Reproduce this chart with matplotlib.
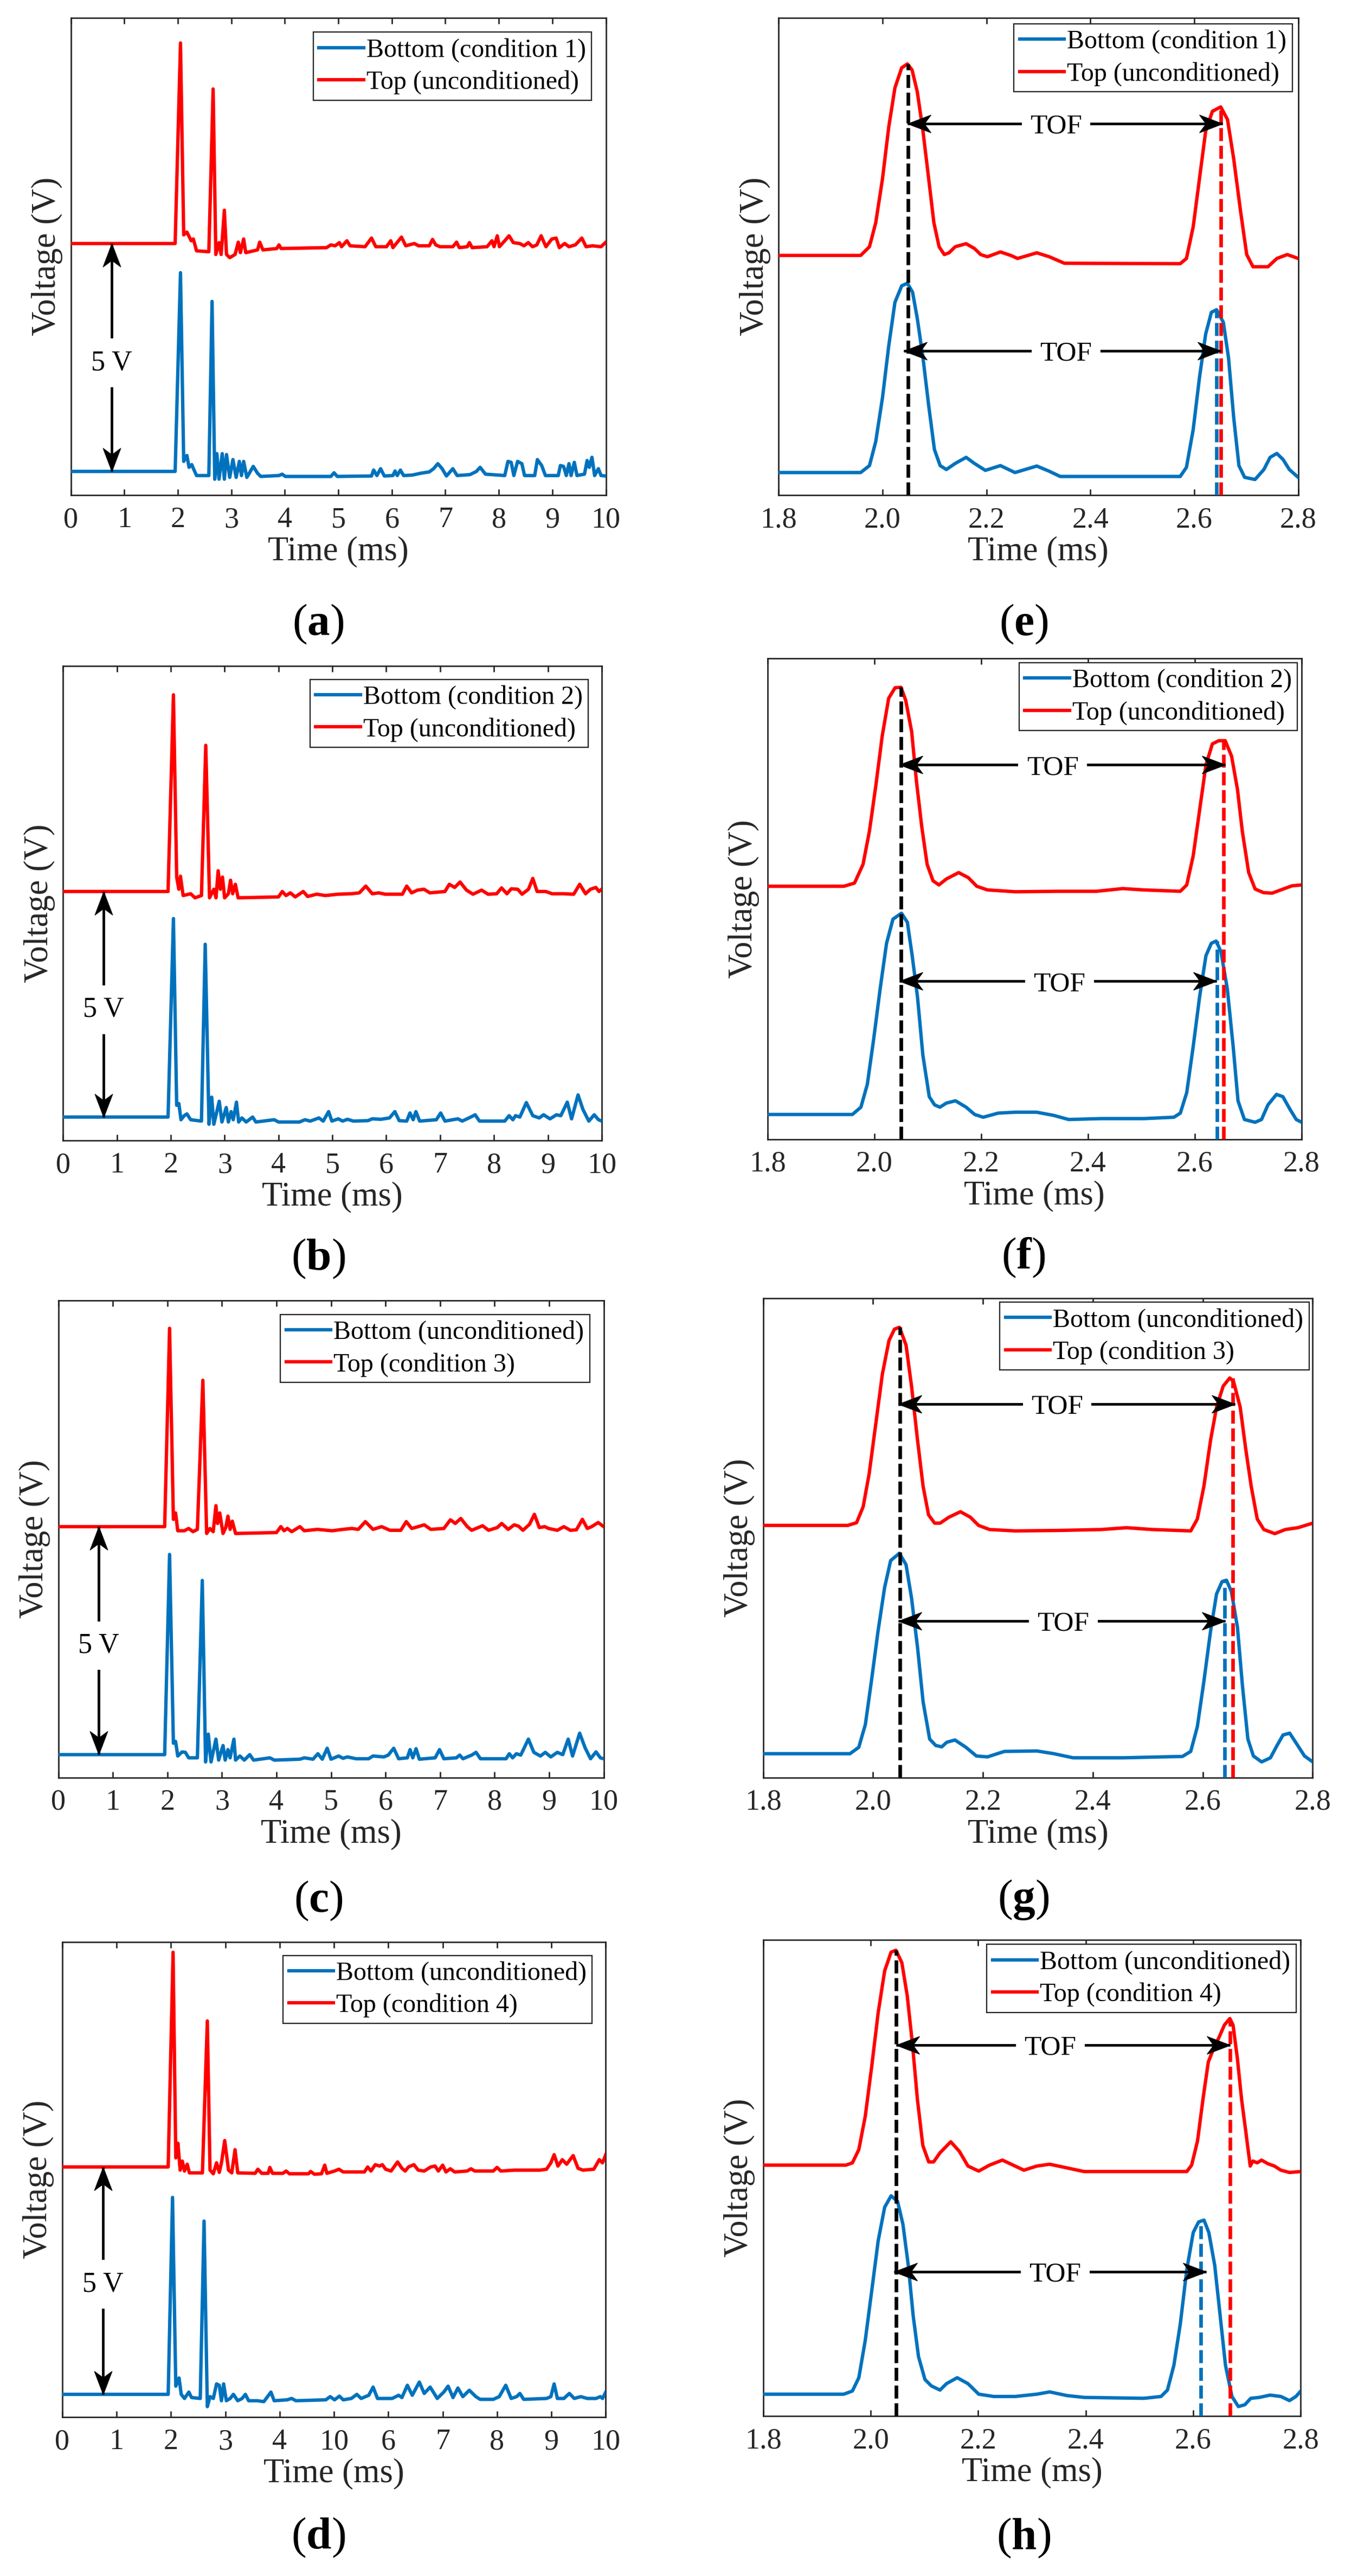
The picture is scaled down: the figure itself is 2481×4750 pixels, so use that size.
import matplotlib
matplotlib.use("Agg")
import matplotlib.pyplot as plt
from matplotlib.path import Path

plt.rcParams['font.family'] = ['Liberation Serif', 'DejaVu Serif']
plt.rcParams['mathtext.fontset'] = 'custom'
plt.rcParams['mathtext.rm'] = 'Liberation Serif'
plt.rcParams['mathtext.bf'] = 'Liberation Serif:bold'

W, H, DPI = 2481, 4750, 300
BLUE = '#0072BD'
RED = '#FF0000'
INK = '#262626'
OFFSET = 5.0  # the "5 V" separation between the two traces

# ---------------- data (time ms, voltage V relative to own baseline) ----------------
a_bottom = [(0,0),(1.95,0),(2.05,4.36),(2.11,0.22),(2.17,0.35),(2.21,0.09),(2.26,0.15),(2.30,0.04),(2.35,-0.09),(2.58,-0.09),(2.64,3.73),(2.69,-0.17),(2.73,0.39),(2.77,-0.17),(2.83,0.39),(2.87,-0.17),(2.91,0.37),(2.97,-0.13),(3.03,0.26),(3.09,-0.13),(3.15,0.22),(3.19,-0.09),(3.23,0.22),(3.29,-0.13),(3.41,0.11),(3.49,-0.04),(3.55,-0.11),(3.89,-0.09),(3.95,-0.06),(4.01,-0.11),(4.86,-0.11),(4.92,-0.03),(4.98,-0.11),(5.62,-0.10),(5.66,0.03),(5.72,-0.09),(5.79,0.06),(5.86,-0.10),(6.02,-0.09),(6.06,0.01),(6.10,-0.09),(6.16,0.03),(6.22,-0.09),(6.38,-0.08),(6.54,-0.04),(6.70,-0.01),(6.78,0.06),(6.86,0.17),(6.94,0.06),(7.02,-0.10),(7.14,0.06),(7.22,-0.09),(7.46,-0.07),(7.58,0.0),(7.65,0.09),(7.75,-0.06),(8.11,-0.09),(8.17,0.22),(8.23,0.20),(8.28,-0.09),(8.35,0.22),(8.43,0.17),(8.48,-0.09),(8.67,-0.09),(8.72,0.26),(8.80,0.13),(8.87,-0.09),(9.11,-0.09),(9.15,0.13),(9.21,0.11),(9.26,-0.09),(9.31,0.17),(9.35,-0.09),(9.41,0.20),(9.46,-0.09),(9.60,-0.06),(9.65,0.24),(9.69,0.09),(9.74,0.31),(9.79,-0.09),(9.86,0.06),(9.91,-0.09),(10.0,-0.10)]
a_top = [(0,0),(1.95,0),(2.05,4.40),(2.11,0.19),(2.17,0.25),(2.25,0.06),(2.29,0.10),(2.35,-0.16),(2.58,-0.18),(2.66,3.39),(2.71,-0.24),(2.77,0.02),(2.81,-0.24),(2.87,0.73),(2.91,-0.24),(2.97,-0.31),(3.07,-0.24),(3.13,0.03),(3.17,-0.20),(3.23,0.10),(3.27,-0.20),(3.49,-0.14),(3.53,0.03),(3.59,-0.14),(3.85,-0.11),(3.89,-0.03),(3.93,-0.11),(4.78,-0.09),(4.86,-0.03),(4.94,-0.05),(5.02,0.02),(5.06,-0.07),(5.16,0.06),(5.22,-0.05),(5.50,-0.07),(5.62,0.12),(5.70,-0.07),(5.90,-0.07),(5.98,0.06),(6.02,-0.09),(6.18,0.14),(6.26,-0.05),(6.42,0.0),(6.50,-0.05),(6.70,-0.05),(6.76,0.09),(6.82,-0.03),(6.90,-0.07),(7.14,-0.07),(7.21,0.03),(7.26,-0.09),(7.41,-0.07),(7.45,0.02),(7.50,-0.09),(7.78,-0.07),(7.87,0.06),(7.91,-0.07),(7.97,0.17),(8.01,-0.07),(8.11,0.06),(8.19,0.17),(8.27,0.02),(8.39,0.0),(8.47,-0.05),(8.55,0.02),(8.63,-0.07),(8.71,-0.03),(8.79,0.17),(8.88,-0.07),(8.99,0.10),(9.07,0.12),(9.13,-0.09),(9.23,0.0),(9.31,-0.07),(9.43,-0.03),(9.55,0.12),(9.63,-0.07),(9.75,-0.05),(9.91,-0.07),(10.0,0.03)]

b_bottom = [(0,0),(1.95,0),(2.05,4.40),(2.11,0.26),(2.15,0.30),(2.19,-0.06),(2.25,0.03),(2.30,0.07),(2.37,-0.06),(2.57,-0.09),(2.64,3.83),(2.71,-0.16),(2.76,0.44),(2.80,-0.16),(2.90,0.35),(2.95,-0.11),(3.03,0.21),(3.07,-0.11),(3.12,0.12),(3.16,-0.06),(3.22,0.33),(3.26,-0.11),(3.32,-0.02),(3.40,-0.11),(3.52,0.0),(3.58,-0.11),(3.92,-0.06),(4.00,-0.11),(4.39,-0.11),(4.49,-0.06),(4.59,-0.09),(4.75,-0.02),(4.83,-0.09),(4.93,0.12),(4.99,-0.09),(5.11,-0.04),(5.19,-0.09),(5.28,-0.05),(5.39,-0.09),(5.66,-0.08),(5.74,-0.04),(5.90,-0.05),(6.06,-0.02),(6.16,0.12),(6.24,-0.08),(6.38,-0.09),(6.44,0.09),(6.50,-0.06),(6.55,0.12),(6.62,-0.09),(6.93,-0.06),(7.01,0.09),(7.09,-0.09),(7.33,-0.04),(7.41,-0.09),(7.57,0.0),(7.65,0.05),(7.73,-0.09),(8.20,-0.09),(8.28,0.03),(8.35,-0.06),(8.40,0.03),(8.48,0.0),(8.60,0.32),(8.72,0.03),(8.84,-0.02),(8.92,0.05),(9.04,-0.04),(9.16,0.05),(9.24,0.03),(9.36,0.33),(9.44,-0.04),(9.56,0.49),(9.65,0.17),(9.76,-0.09),(9.86,0.05),(9.94,-0.06),(10.0,-0.09)]
b_top = [(0,0),(1.95,0),(2.05,4.36),(2.11,0.32),(2.15,0.05),(2.18,0.34),(2.23,-0.09),(2.37,-0.05),(2.45,-0.14),(2.57,-0.09),(2.65,3.24),(2.72,-0.14),(2.80,0.05),(2.84,-0.14),(2.88,0.46),(2.92,0.05),(2.96,0.32),(3.00,-0.14),(3.07,-0.05),(3.11,0.25),(3.15,-0.05),(3.20,0.16),(3.25,-0.14),(4.00,-0.12),(4.07,0.0),(4.14,-0.09),(4.22,-0.03),(4.31,-0.12),(4.46,0.0),(4.54,-0.11),(4.71,-0.06),(4.87,-0.09),(5.11,-0.06),(5.35,-0.05),(5.50,-0.03),(5.62,0.12),(5.74,-0.05),(5.86,-0.03),(5.98,-0.06),(6.30,-0.06),(6.38,0.12),(6.47,-0.03),(6.58,0.03),(6.70,0.05),(6.81,-0.03),(7.09,0.0),(7.17,0.16),(7.27,0.09),(7.37,0.21),(7.49,0.03),(7.61,-0.06),(7.77,0.03),(7.89,-0.06),(8.05,-0.05),(8.14,0.08),(8.24,-0.05),(8.32,0.06),(8.44,0.05),(8.52,-0.06),(8.64,0.05),(8.72,0.29),(8.80,0.0),(8.96,0.0),(9.08,-0.05),(9.28,-0.05),(9.48,-0.06),(9.59,0.16),(9.70,-0.05),(9.79,0.05),(9.89,0.09),(9.95,0.0),(10.0,0.05)]

c_bottom = [(0,0),(1.95,0),(2.04,4.39),(2.11,0.25),(2.15,0.29),(2.19,-0.03),(2.27,0.06),(2.33,0.05),(2.39,-0.07),(2.55,-0.07),(2.64,3.82),(2.70,-0.16),(2.75,0.45),(2.80,-0.16),(2.89,0.34),(2.94,-0.12),(3.02,0.20),(3.06,-0.12),(3.11,0.11),(3.15,-0.07),(3.22,0.34),(3.25,-0.12),(3.33,-0.03),(3.41,-0.12),(3.51,0.0),(3.58,-0.12),(3.88,-0.07),(3.96,-0.12),(4.43,-0.10),(4.51,-0.07),(4.67,-0.10),(4.76,0.02),(4.84,-0.10),(4.93,0.14),(5.00,-0.10),(5.14,-0.03),(5.22,-0.08),(5.30,-0.05),(5.46,-0.09),(5.69,-0.09),(5.77,-0.03),(5.97,-0.05),(6.05,-0.01),(6.15,0.14),(6.24,-0.09),(6.40,-0.07),(6.45,0.11),(6.50,-0.07),(6.56,0.13),(6.62,-0.10),(6.91,-0.07),(6.99,0.11),(7.07,-0.09),(7.30,-0.07),(7.36,-0.01),(7.42,-0.09),(7.58,-0.01),(7.66,0.05),(7.74,-0.09),(8.21,-0.09),(8.27,0.02),(8.33,-0.07),(8.40,0.02),(8.48,-0.01),(8.62,0.34),(8.72,0.05),(8.84,-0.03),(8.93,0.05),(9.03,-0.05),(9.15,0.05),(9.25,0.0),(9.35,0.34),(9.43,-0.03),(9.56,0.47),(9.66,0.15),(9.76,-0.09),(9.86,0.06),(9.94,-0.07),(10.0,-0.09)]
c_top = [(0,0),(1.95,0),(2.04,4.35),(2.11,0.16),(2.15,0.30),(2.19,-0.09),(2.31,-0.09),(2.39,-0.04),(2.47,-0.11),(2.55,-0.06),(2.65,3.21),(2.72,-0.15),(2.78,-0.04),(2.84,-0.11),(2.89,0.46),(2.92,0.07),(2.96,0.30),(3.02,-0.15),(3.07,-0.02),(3.11,0.23),(3.15,-0.06),(3.19,0.12),(3.25,-0.15),(4.00,-0.13),(4.08,0.0),(4.14,-0.09),(4.20,-0.04),(4.28,-0.11),(4.43,0.0),(4.51,-0.09),(4.75,-0.06),(5.02,-0.09),(5.22,-0.06),(5.38,-0.04),(5.50,-0.06),(5.63,0.11),(5.77,-0.06),(5.93,0.0),(6.08,-0.08),(6.28,-0.08),(6.38,0.11),(6.48,-0.04),(6.60,0.0),(6.71,0.04),(6.83,-0.06),(7.07,-0.04),(7.19,0.15),(7.28,0.07),(7.38,0.18),(7.50,0.0),(7.58,-0.08),(7.78,0.02),(7.89,-0.08),(8.05,-0.02),(8.13,0.07),(8.25,-0.06),(8.36,0.04),(8.44,0.01),(8.52,-0.08),(8.64,0.05),(8.73,0.27),(8.82,-0.02),(8.92,0.0),(8.99,-0.04),(9.15,-0.08),(9.27,0.0),(9.39,-0.08),(9.50,-0.07),(9.61,0.16),(9.70,-0.04),(9.78,0.0),(9.90,0.09),(10.0,0.0)]

d_bottom = [(0,0),(1.95,0),(2.03,4.33),(2.09,0.18),(2.15,0.36),(2.19,0.0),(2.25,-0.09),(2.33,0.05),(2.38,-0.07),(2.54,-0.09),(2.61,3.81),(2.67,-0.27),(2.72,-0.05),(2.78,-0.09),(2.84,0.23),(2.89,0.20),(2.93,-0.14),(2.97,0.23),(3.02,-0.14),(3.09,-0.09),(3.15,0.0),(3.23,-0.14),(3.31,-0.09),(3.37,0.0),(3.43,-0.14),(3.59,-0.14),(3.71,-0.16),(3.84,0.05),(3.90,-0.14),(4.14,-0.12),(4.22,-0.09),(4.30,-0.14),(4.85,-0.12),(4.93,-0.05),(5.01,-0.12),(5.10,-0.04),(5.17,-0.12),(5.32,-0.09),(5.42,0.0),(5.50,-0.09),(5.64,-0.02),(5.72,0.16),(5.80,-0.09),(6.07,-0.09),(6.19,-0.02),(6.25,-0.07),(6.35,0.20),(6.44,-0.02),(6.57,0.27),(6.66,0.02),(6.77,0.16),(6.90,-0.09),(7.02,0.05),(7.10,0.18),(7.19,-0.07),(7.28,0.14),(7.37,-0.05),(7.49,0.09),(7.61,-0.05),(7.69,-0.11),(7.93,-0.11),(8.04,-0.05),(8.16,0.20),(8.26,-0.09),(8.36,-0.05),(8.42,0.02),(8.49,-0.11),(8.91,-0.09),(8.99,-0.05),(9.05,0.23),(9.11,-0.09),(9.23,-0.09),(9.33,0.02),(9.42,-0.09),(9.54,-0.05),(9.66,-0.09),(9.82,-0.09),(9.90,-0.05),(9.94,-0.09),(10.0,0.05)]
d_top = [(0,0),(1.95,0),(2.04,4.72),(2.09,0.20),(2.13,0.52),(2.17,-0.07),(2.21,0.13),(2.25,-0.09),(2.30,0.06),(2.34,-0.13),(2.58,-0.13),(2.67,3.21),(2.72,-0.07),(2.78,-0.15),(2.84,0.09),(2.89,-0.12),(2.93,0.09),(2.99,0.58),(3.06,-0.07),(3.12,-0.13),(3.18,0.38),(3.23,-0.13),(3.55,-0.14),(3.60,-0.05),(3.67,-0.14),(3.79,-0.14),(3.82,-0.01),(3.87,-0.14),(4.06,-0.14),(4.12,-0.09),(4.18,-0.15),(4.53,-0.15),(4.57,-0.10),(4.64,-0.16),(4.77,-0.15),(4.83,0.04),(4.87,-0.14),(5.01,-0.09),(5.09,-0.05),(5.17,-0.11),(5.56,-0.11),(5.62,0.0),(5.68,-0.09),(5.76,0.05),(5.84,0.02),(5.89,0.05),(5.95,-0.05),(6.05,-0.09),(6.17,0.11),(6.25,-0.03),(6.31,-0.09),(6.37,0.0),(6.47,0.05),(6.55,-0.07),(6.66,-0.09),(6.78,0.0),(6.86,0.02),(6.92,-0.09),(7.00,0.04),(7.06,-0.11),(7.14,-0.04),(7.22,-0.11),(7.45,-0.09),(7.52,-0.04),(7.59,-0.09),(7.93,-0.09),(8.00,-0.01),(8.07,-0.09),(8.32,-0.07),(8.56,-0.07),(8.79,-0.07),(8.91,-0.05),(8.99,0.09),(9.05,0.27),(9.12,0.02),(9.20,0.16),(9.28,0.06),(9.40,0.25),(9.49,-0.03),(9.58,-0.07),(9.78,-0.05),(9.88,0.16),(9.94,0.09),(10.0,0.27)]

e_bottom = [(1.8,0),(1.958,0),(1.975,0.16),(1.987,0.71),(2.0,1.72),(2.012,2.91),(2.024,3.92),(2.037,4.30),(2.048,4.36),(2.058,4.15),(2.067,3.55),(2.078,2.64),(2.089,1.54),(2.100,0.53),(2.111,0.16),(2.123,0.07),(2.140,0.21),(2.161,0.35),(2.177,0.21),(2.198,0.05),(2.227,0.16),(2.255,0.0),(2.297,0.15),(2.321,0.03),(2.342,-0.09),(2.573,-0.09),(2.585,0.12),(2.598,0.99),(2.610,2.18),(2.622,3.19),(2.633,3.69),(2.643,3.75),(2.656,3.46),(2.666,2.64),(2.676,1.26),(2.686,0.16),(2.697,-0.11),(2.717,-0.16),(2.734,0.07),(2.746,0.35),(2.759,0.44),(2.771,0.30),(2.783,0.07),(2.8,-0.11)]
e_top = [(1.8,0),(1.958,0),(1.975,0.20),(1.987,0.75),(2.0,1.76),(2.012,2.95),(2.024,3.86),(2.037,4.32),(2.048,4.41),(2.057,4.27),(2.067,3.77),(2.078,2.86),(2.089,1.76),(2.099,0.75),(2.109,0.20),(2.119,0.02),(2.128,0.06),(2.140,0.20),(2.161,0.27),(2.177,0.16),(2.189,0.02),(2.202,-0.03),(2.227,0.08),(2.247,0.0),(2.26,-0.07),(2.297,0.06),(2.321,-0.03),(2.35,-0.18),(2.573,-0.19),(2.585,-0.07),(2.598,0.66),(2.610,1.76),(2.622,2.86),(2.635,3.32),(2.651,3.42),(2.664,3.13),(2.676,2.22),(2.689,1.03),(2.701,0.02),(2.713,-0.26),(2.742,-0.26),(2.759,-0.07),(2.779,0.02),(2.8,-0.07)]

f_bottom = [(1.8,0),(1.959,0),(1.975,0.16),(1.987,0.66),(1.999,1.66),(2.011,2.75),(2.023,3.75),(2.035,4.28),(2.051,4.41),(2.062,4.21),(2.071,3.48),(2.081,2.57),(2.091,1.30),(2.103,0.39),(2.113,0.21),(2.123,0.16),(2.135,0.25),(2.152,0.30),(2.172,0.16),(2.188,0.0),(2.204,-0.06),(2.232,0.03),(2.264,0.05),(2.304,0.05),(2.336,-0.02),(2.364,-0.11),(2.424,-0.09),(2.505,-0.09),(2.561,-0.06),(2.573,0.03),(2.585,0.48),(2.597,1.48),(2.609,2.57),(2.621,3.48),(2.631,3.75),(2.640,3.80),(2.649,3.57),(2.661,2.75),(2.672,1.48),(2.681,0.30),(2.693,-0.11),(2.713,-0.17),(2.725,-0.11),(2.737,0.21),(2.753,0.44),(2.765,0.39),(2.778,0.12),(2.79,-0.11),(2.8,-0.17)]
f_top = [(1.8,0),(1.943,0),(1.963,0.07),(1.979,0.48),(1.991,1.21),(2.003,2.21),(2.015,3.30),(2.027,4.12),(2.039,4.35),(2.05,4.36),(2.059,4.07),(2.07,3.39),(2.079,2.30),(2.089,1.30),(2.099,0.48),(2.11,0.12),(2.121,0.03),(2.135,0.16),(2.158,0.30),(2.176,0.19),(2.192,0.0),(2.212,-0.08),(2.264,-0.12),(2.344,-0.11),(2.416,-0.11),(2.465,-0.05),(2.505,-0.08),(2.573,-0.11),(2.585,0.03),(2.597,0.66),(2.609,1.66),(2.621,2.66),(2.633,3.12),(2.645,3.19),(2.657,3.19),(2.669,2.85),(2.68,2.12),(2.689,1.21),(2.701,0.30),(2.713,-0.06),(2.729,-0.14),(2.745,-0.15),(2.761,-0.08),(2.782,0.01),(2.8,0.03)]

g_bottom = [(1.8,0),(1.958,0),(1.974,0.14),(1.986,0.64),(1.997,1.59),(2.009,2.68),(2.021,3.64),(2.032,4.23),(2.048,4.39),(2.06,4.14),(2.07,3.41),(2.081,2.32),(2.091,1.14),(2.103,0.32),(2.114,0.18),(2.125,0.15),(2.134,0.25),(2.149,0.30),(2.169,0.14),(2.188,-0.05),(2.208,-0.07),(2.239,0.05),(2.298,0.06),(2.329,0.0),(2.364,-0.09),(2.454,-0.09),(2.563,-0.06),(2.578,0.05),(2.59,0.59),(2.602,1.59),(2.614,2.68),(2.625,3.50),(2.635,3.77),(2.643,3.80),(2.652,3.55),(2.663,2.77),(2.672,1.50),(2.682,0.32),(2.692,-0.05),(2.707,-0.18),(2.723,-0.09),(2.735,0.18),(2.746,0.41),(2.758,0.45),(2.77,0.23),(2.785,-0.05),(2.8,-0.18)]
g_top = [(1.8,0),(1.954,0),(1.97,0.06),(1.982,0.41),(1.993,1.14),(2.005,2.23),(2.017,3.32),(2.029,4.05),(2.039,4.30),(2.048,4.34),(2.06,3.95),(2.07,3.05),(2.081,1.86),(2.091,0.86),(2.101,0.23),(2.112,0.05),(2.122,0.05),(2.138,0.18),(2.159,0.30),(2.177,0.18),(2.192,0.0),(2.212,-0.09),(2.259,-0.12),(2.337,-0.11),(2.415,-0.09),(2.461,-0.05),(2.508,-0.09),(2.578,-0.12),(2.59,0.14),(2.602,0.86),(2.614,1.86),(2.625,2.59),(2.637,3.05),(2.649,3.23),(2.656,3.15),(2.668,2.59),(2.678,1.68),(2.688,0.86),(2.699,0.14),(2.711,-0.09),(2.731,-0.18),(2.75,-0.09),(2.773,-0.05),(2.8,0.05)]

h_bottom = [(1.8,0),(1.95,0),(1.966,0.07),(1.978,0.36),(1.99,1.18),(2.002,2.26),(2.014,3.35),(2.026,4.08),(2.038,4.33),(2.05,4.21),(2.06,3.71),(2.07,2.81),(2.079,1.72),(2.089,0.82),(2.101,0.32),(2.113,0.18),(2.129,0.09),(2.141,0.23),(2.161,0.36),(2.181,0.23),(2.201,0.0),(2.229,-0.05),(2.269,-0.05),(2.309,0.0),(2.333,0.05),(2.365,-0.03),(2.397,-0.07),(2.508,-0.09),(2.54,-0.05),(2.552,0.09),(2.564,0.63),(2.576,1.54),(2.588,2.72),(2.6,3.53),(2.61,3.76),(2.62,3.80),(2.629,3.53),(2.64,2.81),(2.65,1.72),(2.66,0.63),(2.672,-0.05),(2.684,-0.27),(2.696,-0.23),(2.707,-0.09),(2.723,-0.07),(2.743,-0.02),(2.763,-0.05),(2.779,-0.14),(2.791,-0.05),(2.8,0.07)]
h_top = [(1.8,0),(1.954,0),(1.966,0.05),(1.978,0.34),(1.99,1.07),(2.002,2.16),(2.014,3.33),(2.026,4.24),(2.038,4.65),(2.047,4.69),(2.058,4.42),(2.068,3.70),(2.078,2.61),(2.087,1.43),(2.097,0.43),(2.108,0.07),(2.117,0.07),(2.129,0.27),(2.149,0.51),(2.165,0.30),(2.181,-0.02),(2.201,-0.13),(2.221,0.0),(2.245,0.11),(2.265,0.0),(2.285,-0.11),(2.309,-0.02),(2.333,0.02),(2.357,-0.04),(2.397,-0.14),(2.508,-0.14),(2.588,-0.14),(2.597,0.0),(2.608,0.53),(2.618,1.43),(2.628,2.25),(2.637,2.52),(2.648,2.79),(2.658,3.06),(2.668,3.20),(2.674,3.06),(2.682,2.34),(2.69,1.43),(2.698,0.71),(2.706,-0.02),(2.711,0.09),(2.719,0.05),(2.727,0.11),(2.739,0.03),(2.751,-0.02),(2.763,-0.11),(2.779,-0.16),(2.8,-0.14)]

# legend texts
legend_a = ['Bottom (condition 1)', 'Top (unconditioned)']
legend_b = ['Bottom (condition 2)', 'Top (unconditioned)']
legend_c = ['Bottom (unconditioned)', 'Top (condition 3)']
legend_d = ['Bottom (unconditioned)', 'Top (condition 4)']

# tick labels
ticks_full = [0, 1, 2, 3, 4, 5, 6, 7, 8, 9, 10]
ticklabels_full = ['0', '1', '2', '3', '4', '5', '6', '7', '8', '9', '10']
ticklabels_d = ['0', '1', '2', '3', '4', '10', '6', '7', '8', '9', '10']
ticks_zoom = [1.8, 2.0, 2.2, 2.4, 2.6, 2.8]
ticklabels_zoom = ['1.8', '2.0', '2.2', '2.4', '2.6', '2.8']

# y ranges (V)
ylim_a, ylim_b, ylim_c, ylim_d = (-0.52, 9.95), (-0.52, 10.0), (-0.50, 9.96), (-0.50, 9.95)
ylim_e, ylim_f, ylim_g, ylim_h = (-0.52, 10.47), (-0.54, 9.99), (-0.52, 9.97), (-0.48, 9.92)

# "5 V" arrow: time position, label height (V)
fivev_a, fivev_b, fivev_c, fivev_d = (0.76, 2.38), (0.75, 2.38), (0.74, 2.39), (0.75, 2.42)

# peak-time markers (black = first top peak, red = second top peak, blue = second bottom peak)
mark_e = [2.049, 2.651, 2.643]
mark_f = [2.050, 2.654, 2.642]
mark_g = [2.049, 2.655, 2.640]
mark_h = [2.047, 2.669, 2.614]

# TOF arrows: (level V, start ms, end ms, label ms) for top and bottom pairs
tof_e = [(8.04, 2.048, 2.654, 2.334), (2.80, 2.041, 2.651, 2.353)]
tof_f = [(7.66, 2.047, 2.657, 2.334), (2.92, 2.047, 2.641, 2.347)]
tof_g = [(7.66, 2.046, 2.658, 2.335), (2.91, 2.046, 2.641, 2.346)]
tof_h = [(7.62, 2.047, 2.669, 2.334), (2.67, 2.043, 2.624, 2.343)]

# ---------------- layout (pixel boxes: left, top, right, bottom) ----------------
panels = [
    dict(box=(130.6, 33, 1117.6, 913), bottom=a_bottom, top=a_top, legend=legend_a, ylim=ylim_a,
         kind='full', ticklabels=ticklabels_full, fivev=fivev_a, letter='a', lxy=(587, 1151), lpad=0.55),
    dict(box=(116.2, 1228, 1110, 2103), bottom=b_bottom, top=b_top, legend=legend_b, ylim=ylim_b,
         kind='full', ticklabels=ticklabels_full, fivev=fivev_b, letter='b', lxy=(587, 2321), lpad=0.52),
    dict(box=(107.6, 2398, 1113.5, 3277.5), bottom=c_bottom, top=c_top, legend=legend_c, ylim=ylim_c,
         kind='full', ticklabels=ticklabels_full, fivev=fivev_c, letter='c', lxy=(587, 3505), lpad=0.54),
    dict(box=(114.7, 3580.6, 1117.4, 4457), bottom=d_bottom, top=d_top, legend=legend_d, ylim=ylim_d,
         kind='full', ticklabels=ticklabels_d, fivev=fivev_d, letter='d', lxy=(587, 4679), lpad=0.52),
    dict(box=(1436.1, 33, 2394.6, 913), bottom=e_bottom, top=e_top, legend=legend_a, ylim=ylim_e,
         kind='zoom', marks=mark_e, tof=tof_e, letter='e', lxy=(1888, 1151), lpad=0.23),
    dict(box=(1415.6, 1214.3, 2400.9, 2100.5), bottom=f_bottom, top=f_top, legend=legend_b, ylim=ylim_f,
         kind='zoom', marks=mark_f, tof=tof_f, letter='f', lxy=(1888, 2319), lpad=0.16),
    dict(box=(1407.7, 2394.4, 2421.5, 3277.5), bottom=g_bottom, top=g_top, legend=legend_c, ylim=ylim_g,
         kind='zoom', marks=mark_g, tof=tof_g, letter='g', lxy=(1888, 3503), lpad=0.14),
    dict(box=(1407.7, 3576.8, 2399.4, 4455.3), bottom=h_bottom, top=h_top, legend=legend_d, ylim=ylim_h,
         kind='zoom', marks=mark_h, tof=tof_h, letter='h', lxy=(1888, 4680), lpad=0.18),
]

LW = 1.5
FS_TICK = 13.0
FS_LABEL = 15.0
FS_LEG = 11.5
FS_TOF = 12.3
FS_5V = 12.5
FS_LETTER = 20
HEAD_MS = 20.5

# concave ("vback") arrow heads as marker paths; the tip sits at the marker origin
_codes = [Path.MOVETO, Path.LINETO, Path.LINETO, Path.LINETO, Path.CLOSEPOLY]
HEAD_R = Path([(0, 0), (-1, 0.38), (-0.72, 0), (-1, -0.38), (0, 0)], _codes)
HEAD_L = Path([(0, 0), (1, 0.38), (0.72, 0), (1, -0.38), (0, 0)], _codes)
HEAD_U = Path([(0, 0), (0.38, -1), (0, -0.72), (-0.38, -1), (0, 0)], _codes)
HEAD_D = Path([(0, 0), (0.38, 1), (0, 0.72), (-0.38, 1), (0, 0)], _codes)

fig = plt.figure(figsize=(W / DPI, H / DPI), dpi=DPI, facecolor='white')


def dbl_arrow(ax, p0, p1, vertical=False):
    ax.plot([p0[0], p1[0]], [p0[1], p1[1]], color='black', lw=1.15, zorder=6, solid_capstyle='butt')
    m0, m1 = (HEAD_D, HEAD_U) if vertical else (HEAD_L, HEAD_R)
    ax.plot([p0[0]], [p0[1]], marker=m0, ms=HEAD_MS, color='black', mew=0.3, ls='none', zorder=6,
            clip_on=False)
    ax.plot([p1[0]], [p1[1]], marker=m1, ms=HEAD_MS, color='black', mew=0.3, ls='none', zorder=6,
            clip_on=False)


def draw_trace(ax, pairs, off, color, label):
    t = [p[0] for p in pairs]
    v = [p[1] + off for p in pairs]
    ax.plot(t, v, color=color, lw=LW, label=label, solid_joinstyle='round', zorder=3)


for p in panels:
    l, t, r, b = p['box']
    ax = fig.add_axes([l / W, 1 - b / H, (r - l) / W, (b - t) / H])
    draw_trace(ax, p['bottom'], 0.0, BLUE, p['legend'][0])
    draw_trace(ax, p['top'], OFFSET, RED, p['legend'][1])
    ax.set_ylim(*p['ylim'])
    if p['kind'] == 'full':
        ax.set_xlim(0, 10)
        ax.set_xticks(ticks_full)
        ax.set_xticklabels(p['ticklabels'])
        x5, y5 = p['fivev']
        dbl_arrow(ax, (x5, 0.0), (x5, OFFSET), vertical=True)
        ax.text(x5, y5, '5 V', ha='center', va='center', fontsize=FS_5V, color='black', zorder=7,
                bbox=dict(facecolor='white', edgecolor='none', boxstyle='square,pad=0.4'))
    else:
        ax.set_xlim(1.8, 2.8)
        ax.set_xticks(ticks_zoom)
        ax.set_xticklabels(ticklabels_zoom)
        xb, xr, xbl = p['marks']
        top_first = OFFSET + max(v for tt, v in p['top'] if tt < 2.3)
        top_second = OFFSET + max(v for tt, v in p['top'] if tt > 2.5)
        bot_second = max(v for tt, v in p['bottom'] if tt > 2.5)
        yb = p['ylim'][0]
        ds = (0, (3.6, 1.3))
        ax.plot([xb, xb], [yb, top_first], color='black', lw=1.6, ls=ds, zorder=5)
        ax.plot([xr, xr], [yb, top_second], color=RED, lw=1.6, ls=ds, zorder=5)
        ax.plot([xbl, xbl], [yb, bot_second], color=BLUE, lw=1.6, ls=ds, zorder=5)
        for (lvl, x0, x1, xt) in p['tof']:
            dbl_arrow(ax, (x0, lvl), (x1, lvl))
            ax.text(xt, lvl, 'TOF', ha='center', va='center_baseline', fontsize=FS_TOF, color='black',
                    zorder=7, bbox=dict(facecolor='white', edgecolor='none', boxstyle='square,pad=0.3'))

    ax.tick_params(axis='x', direction='in', top=True, bottom=True, length=2.6, width=0.65,
                   pad=5, labelsize=FS_TICK, colors=INK)
    ax.tick_params(axis='y', left=False, right=False, labelleft=False)
    for s in ax.spines.values():
        s.set_linewidth(0.65)
        s.set_color(INK)
    ax.set_xlabel('Time (ms)', fontsize=FS_LABEL, color=INK, labelpad=1)
    ax.set_ylabel('Voltage (V)', fontsize=FS_LABEL, color=INK, labelpad=3.5)

    leg = ax.legend(loc='upper right', fontsize=FS_LEG, frameon=True, fancybox=False, framealpha=1,
                    edgecolor=INK, handlelength=1.72, handletextpad=0.1, borderpad=0.22,
                    labelspacing=0.3, borderaxespad=p['lpad'])
    leg.get_frame().set_linewidth(0.55)
    leg.set_zorder(10)
    for txt in leg.get_texts():
        txt.set_color('black')

    lx, ly = p['lxy']
    fig.text(lx / W, 1 - ly / H, '($\\mathbf{%s}$)' % p['letter'], ha='center', va='center',
             fontsize=FS_LETTER, color='black')

fig.savefig('out.png', dpi=DPI, facecolor='white')
